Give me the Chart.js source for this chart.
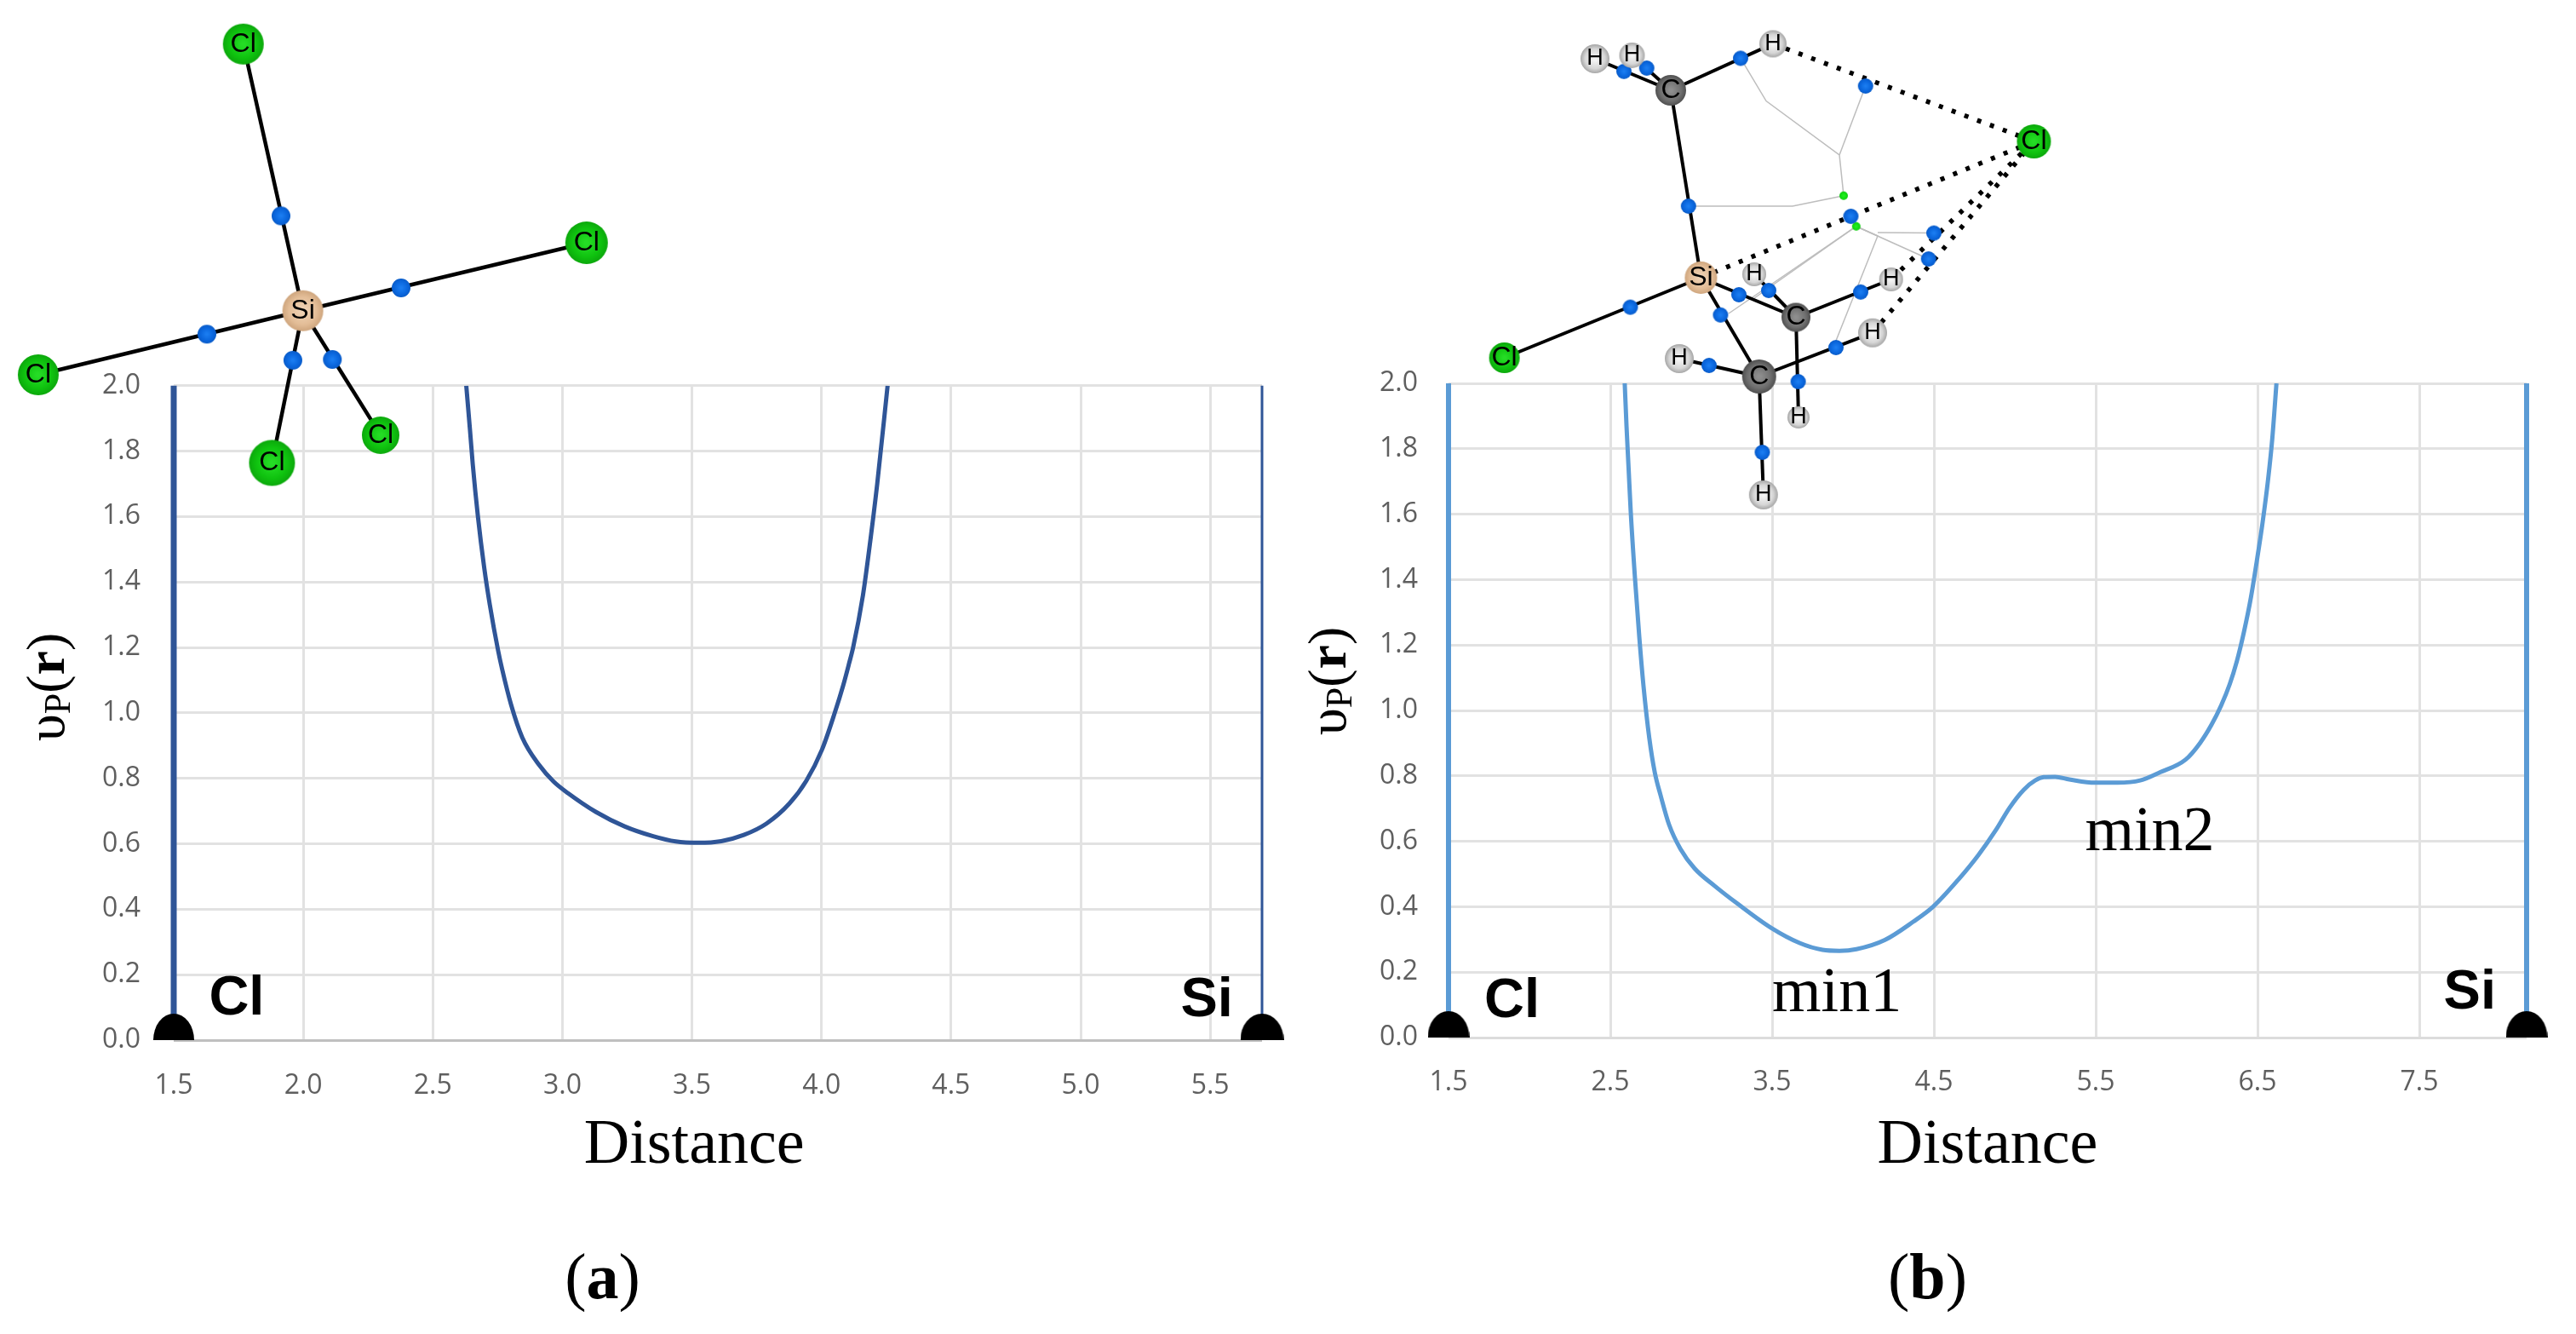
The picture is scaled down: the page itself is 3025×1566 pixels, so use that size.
<!DOCTYPE html>
<html lang="en">
	<head>
		<meta charset="UTF-8" />
		<title>Potential along the Cl-Si path</title>
		<style>
			body {
				background: #fff;
				margin: 0;
				padding: 0;
				width: 3025px;
				height: 1566px;
				overflow: hidden;
			}

			canvas {
				position: absolute;
				top: 0;
				display: block;
			}
		</style>
		<script src="https://cdn.jsdelivr.net/npm/chart.js"></script>
	</head>
	<body>
		<canvas id="chartA" width="1512" height="1566" style="left: 0"></canvas>
		<canvas id="chartB" width="1513" height="1566" style="left: 1512px"></canvas>
		<canvas id="molecules" width="3025" height="1566" style="left: 0"></canvas>
		<script>
			// panel (a)
			const distA = [2.629, 2.643, 2.654, 2.674, 2.698, 2.72, 2.752, 2.767, 2.802, 2.845, 2.911, 2.966, 3.021, 3.13, 3.24, 3.35, 3.437, 3.525, 3.613, 3.7, 3.788, 3.876, 3.941, 4.002, 4.051, 4.084, 4.106, 4.122, 4.16, 4.18, 4.215, 4.255];
			const upA = [2.0, 1.868, 1.76, 1.6, 1.445, 1.33, 1.19, 1.135, 1.025, 0.925, 0.84, 0.79, 0.755, 0.697, 0.653, 0.623, 0.607, 0.603, 0.608, 0.627, 0.662, 0.723, 0.792, 0.888, 1.0, 1.085, 1.15, 1.2, 1.36, 1.475, 1.7, 2.0];
			const xTicksA = [1.5, 2.0, 2.5, 3.0, 3.5, 4.0, 4.5, 5.0, 5.5];
			const xEndsA = [1.5, 5.7];

			// panel (b)
			const distB = [2.589, 2.6, 2.613, 2.626, 2.653, 2.679, 2.705, 2.741, 2.775, 2.811, 2.863, 2.933, 3.021, 3.144, 3.284, 3.495, 3.67, 3.811, 3.916, 4.021, 4.196, 4.372, 4.495, 4.653, 4.775, 4.881, 4.968, 5.056, 5.126, 5.179, 5.249, 5.337, 5.495, 5.635, 5.775, 5.898, 6.056, 6.144, 6.214, 6.275, 6.328, 6.372, 6.416, 6.459, 6.495, 6.53, 6.565, 6.591, 6.617];
			const upB = [2.0, 1.87, 1.74, 1.609, 1.4, 1.225, 1.075, 0.915, 0.81, 0.74, 0.651, 0.577, 0.517, 0.464, 0.41, 0.335, 0.289, 0.268, 0.265, 0.27, 0.298, 0.354, 0.4, 0.484, 0.558, 0.633, 0.703, 0.758, 0.786, 0.796, 0.797, 0.789, 0.779, 0.779, 0.786, 0.811, 0.85, 0.9, 0.955, 1.015, 1.08, 1.15, 1.24, 1.345, 1.455, 1.57, 1.705, 1.83, 2.0];
			const xTicksB = [1.5, 2.5, 3.5, 4.5, 5.5, 6.5, 7.5];
			const xEndsB = [1.5, 8.163];

			const yTicks = [0, 0.2, 0.4, 0.6, 0.8, 1.0, 1.2, 1.4, 1.6, 1.8, 2.0];

			// text inside the plots: text, distance, value
			const atomLabelsA = [["Cl", 1.636, 0.078], ["Si", 5.386, 0.074]];
			const atomLabelsB = [["Cl", 1.721, 0.0625], ["Si", 7.65, 0.089]];
			const minLabelsB = [["min1", 3.5, 0.0815], ["min2", 5.434, 0.574]];

			// molecule (a), in picture pixels
			const molAEl = ["Cl", "Cl", "Cl", "Cl", "Cl", "Si"];
			const molAX = [285.7, 688.8, 44.9, 319.4, 447, 355.6];
			const molAY = [51.7, 285, 440, 543.4, 510.9, 364.7];
			const molAR = [24, 25, 24, 27, 22, 24];
			const molABcpX = [330, 471, 243, 343.9, 390.3];
			const molABcpY = [253.4, 338, 392.3, 422.9, 422];
			const molABonds = [[5, 0], [5, 1], [5, 2], [5, 3], [5, 4]];

			// molecule (b), in picture pixels
			const molBEl = ["H", "H", "H", "C", "Cl", "Si", "H", "H", "C", "H", "H", "C", "Cl", "H", "H"];
			const molBX = [1873, 1916.5, 2082, 1962, 2388.4, 1997.4, 2060, 2220.7, 2109, 2199, 1972, 2065.7, 1766.6, 2112, 2070.8];
			const molBY = [69, 65, 51.4, 106, 166, 326, 322, 328, 372.5, 390.7, 421, 442, 420, 490, 581];
			const molBR = [17, 15, 16, 18, 20, 19, 14, 14, 17, 17, 17, 20, 18, 13, 17];
			const molBBcpX = [1907, 1933.7, 2044, 2190.7, 1982.8, 2173.5, 2271, 2264.7, 2077, 2042, 2185, 2020.4, 1914.5, 2156, 2007, 2111.6, 2069.5];
			const molBBcpY = [83.8, 79.9, 68.4, 101, 242, 253.9, 273.6, 304, 341, 346, 342.8, 369.7, 360.6, 408, 429, 448, 531];
			const molBRcpX = [2165, 2179.8];
			const molBRcpY = [229.7, 265.7];
			const molBBonds = [[3, 0], [3, 1], [3, 2], [3, 5], [5, 12], [5, 8], [5, 11], [8, 6], [8, 7], [8, 13], [11, 9], [11, 10], [11, 14]];
			const molBDotted = [[2, 4], [5, 4], [7, 4], [9, 4]];
			const molBPathsX = [[2044, 2074, 2160, 2165], [2190.7, 2160], [1982.8, 2105, 2165], [2179.8, 2030], [2179.8, 2060], [2179.8, 2205, 2156], [2179.8, 2264.7], [2205, 2271]];
			const molBPathsY = [[68.4, 118.6, 182, 229.7], [101, 182], [242, 242, 229.7], [265.7, 368], [265.7, 350], [265.7, 277, 400], [265.7, 304], [273, 273.6]];

			const zip = (xs, ys) => xs.map((x, i) => ({ x, y: ys[i] }));

			// half disc sitting on the axis, the point is the middle of its flat side
			function domeSprite(w, h) {
				const c = document.createElement("canvas");
				c.width = w;
				c.height = h * 2;
				const g = c.getContext("2d");
				g.fillStyle = "#000";
				g.beginPath();
				g.ellipse(w / 2, h, w / 2, h, 0, Math.PI, 0);
				g.fill();
				return c;
			}

			const atomColors = {
				Cl: ["#25dc25", "#0fc20f", "#0ca80c"],
				Si: ["#efd2b4", "#e3bd97", "#cfa67e"],
				C: ["#8e8e8e", "#6f6f6f", "#505050"],
				H: ["#f4f4f4", "#d6d6d6", "#a6a6a6"],
				bcp: ["#1a7cf0", "#0a66dd", "#0a5cc8"],
				rcp: ["#22ee22", "#11dd11", "#11cc11"],
			};

			function atomSprite(el, r) {
				const c = document.createElement("canvas");
				c.width = c.height = Math.ceil(r * 2) + 2;
				const g = c.getContext("2d");
				const m = c.width / 2;
				const grad = g.createRadialGradient(m, m, r * 0.1, m, m, r);
				grad.addColorStop(0, atomColors[el][0]);
				grad.addColorStop(0.65, atomColors[el][1]);
				grad.addColorStop(1, atomColors[el][2]);
				g.fillStyle = grad;
				g.beginPath();
				g.arc(m, m, r, 0, Math.PI * 2);
				g.fill();
				return c;
			}

			function drawRuns(ctx, runs, px, py, rotation) {
				ctx.save();
				ctx.translate(px, py);
				ctx.rotate(rotation || 0);
				ctx.textAlign = "left";
				ctx.textBaseline = "alphabetic";
				ctx.fillStyle = "#000";
				let at = 0;
				runs.forEach(([text, font, dy]) => {
					ctx.font = font;
					ctx.fillText(text, at, dy || 0);
					at += ctx.measureText(text).width;
				});
				ctx.restore();
			}

			function makePanel(id, cfg) {
				const canvas = document.getElementById(id);
				const dx = cfg.canvasLeft;
				const caps = [domeSprite(cfg.capW[0], cfg.capH), domeSprite(cfg.capW[1], cfg.capH)];
				const serif = '74px "Liberation Serif"';
				const sans = 'bold 65px "Liberation Sans"';

				const textPlugin = {
					id: "panelText",
					afterDraw(chart) {
						const { ctx, scales } = chart;
						const at = (x, y) => [scales.x.getPixelForValue(x), scales.y.getPixelForValue(y)];
						cfg.atomLabels.forEach(([t, x, y]) => {
							drawRuns(ctx, [[t, sans]], ...at(x, y));
						});
						cfg.minLabels.forEach(([t, x, y]) => {
							drawRuns(ctx, [[t, serif]], ...at(x, y));
						});
						// caption under the plot
						drawRuns(
							ctx,
							[
								["(", '76px "Liberation Serif"'],
								[cfg.caption[0], 'bold 76px "Liberation Serif"'],
								[")", '76px "Liberation Serif"'],
							],
							...at(cfg.caption[1], cfg.caption[2])
						);
						// y axis title has three fonts, the scale title can only do one
						drawRuns(
							ctx,
							[
								["υ", '64px "Liberation Serif"'],
								["P", '44px "Liberation Serif"', 7],
								["(", '64px "Liberation Serif"'],
								["r", 'bold 64px "Liberation Serif"'],
								[")", '64px "Liberation Serif"'],
							],
							cfg.yTitle[0] - dx,
							cfg.yTitle[1],
							-Math.PI / 2
						);
					},
				};

				return new Chart(canvas, {
					type: "scatter",
					data: {
						datasets: [
							{
								data: cfg.xEnds.map((x) => ({ x, y: 0 })),
								pointStyle: caps,
								pointRadius: 10,
								clip: false,
							},
							{
								data: zip(cfg.dist, cfg.up),
								showLine: true,
								cubicInterpolationMode: "monotone",
								borderColor: cfg.color,
								borderWidth: 5,
								pointRadius: 0,
							},
							{
								data: [{ x: cfg.xEnds[0], y: 0 }, { x: cfg.xEnds[0], y: 2 }],
								showLine: true,
								borderColor: cfg.color,
								borderWidth: cfg.sideWidth[0],
								pointRadius: 0,
								clip: false,
							},
							{
								data: [{ x: cfg.xEnds[1], y: 0 }, { x: cfg.xEnds[1], y: 2 }],
								showLine: true,
								borderColor: cfg.color,
								borderWidth: cfg.sideWidth[1],
								pointRadius: 0,
								clip: false,
							},
						],
					},
					options: {
						responsive: false,
						animation: false,
						devicePixelRatio: 1,
						layout: {
							padding: {
								top: cfg.plot.top,
								right: canvas.width - (cfg.plot.right - dx),
								left: 0,
								bottom: 0,
							},
						},
						plugins: {
							legend: { display: false },
							tooltip: { enabled: false },
						},
						scales: {
							x: {
								type: "linear",
								min: cfg.xEnds[0],
								max: cfg.xEnds[1],
								afterFit: (s) => {
									s.height = canvas.height - cfg.plot.bottom;
								},
								afterBuildTicks: (s) => {
									s.ticks = cfg.xTicks.map((value) => ({ value }));
								},
								grid: {
									color: "#e2e2e2",
									lineWidth: 3,
									drawTicks: false,
								},
								border: { display: false },
								ticks: {
									color: "#5f5f5f",
									font: { family: "Open Sans", size: 32 },
									padding: cfg.xPad,
									maxRotation: 0,
									callback: (v) => v.toFixed(1),
								},
								title: {
									display: true,
									text: cfg.xTitle,
									color: "#000",
									font: { family: "Liberation Serif", size: 74 },
									padding: { top: 0, bottom: 176 },
								},
							},
							y: {
								type: "linear",
								min: 0,
								max: 2,
								afterFit: (s) => {
									s.width = cfg.plot.left - dx;
								},
								afterBuildTicks: (s) => {
									s.ticks = yTicks.map((value) => ({ value }));
								},
								grid: {
									color: (c) => (c.tick.value === 0 ? cfg.baseColor : "#e2e2e2"),
									lineWidth: 3,
									drawTicks: false,
								},
								border: { display: false },
								ticks: {
									color: "#5f5f5f",
									font: { family: "Open Sans", size: 32 },
									padding: cfg.yPad,
									callback: (v) => v.toFixed(1),
								},
							},
						},
					},
					plugins: [textPlugin],
				});
			}

			makePanel("chartA", {
				canvasLeft: 0,
				plot: { left: 204, right: 1482, top: 452.7, bottom: 1221 },
				dist: distA,
				up: upA,
				xTicks: xTicksA,
				xEnds: xEndsA,
				color: "#2f5597",
				baseColor: "#bfbfbf",
				sideWidth: [7, 3],
				capW: [48, 51],
				capH: 31,
				xPad: 35,
				yPad: 39,
				// centre of the word sits left of the plot centre here
				xTitle: "Distance\u00A0\u00A0\u00A0",
				atomLabels: atomLabelsA,
				minLabels: [],
				caption: ["a", 3.009, -0.789],
				yTitle: [75, 870],
			});

			makePanel("chartB", {
				canvasLeft: 1512,
				plot: { left: 1701, right: 2967, top: 450, bottom: 1218 },
				dist: distB,
				up: upB,
				xTicks: xTicksB,
				xEnds: xEndsB,
				color: "#5b9bd5",
				baseColor: "#dcdcdc",
				sideWidth: [6, 6],
				capW: [49, 49],
				capH: 31,
				xPad: 34,
				yPad: 36,
				xTitle: "Distance",
				atomLabels: atomLabelsB,
				minLabels: minLabelsB,
				caption: ["b", 4.216, -0.798],
				yTitle: [1580, 863],
			});

			// both molecule insets on one transparent chart that covers the page
			const molDatasets = [];
			const molLabels = [];

			function addAtoms(els, xs, ys, rs) {
				const pts = zip(xs, ys);
				molDatasets.push({
					data: pts,
					pointStyle: els.map((el, i) => atomSprite(el, rs[i])),
					pointRadius: 10,
				});
				els.forEach((el, i) => molLabels.push([el, xs[i], ys[i], el === "H" ? 27 : 32]));
			}

			function addBcps(xs, ys, r, kind) {
				molDatasets.push({
					data: zip(xs, ys),
					pointStyle: xs.map(() => atomSprite(kind, r)),
					pointRadius: 10,
				});
			}

			function addBonds(bonds, xs, ys, width, dash) {
				bonds.forEach(([a, b]) => {
					molDatasets.push({
						data: [{ x: xs[a], y: ys[a] }, { x: xs[b], y: ys[b] }],
						showLine: true,
						borderColor: "#000",
						borderWidth: width,
						borderDash: dash || [],
						pointRadius: 0,
					});
				});
			}

			// first dataset ends up on top
			addAtoms(molAEl, molAX, molAY, molAR);
			addAtoms(molBEl, molBX, molBY, molBR);
			addBcps(molABcpX, molABcpY, 11, "bcp");
			addBcps(molBBcpX, molBBcpY, 9, "bcp");
			addBcps(molBRcpX, molBRcpY, 5, "rcp");
			addBonds(molABonds, molAX, molAY, 4.5);
			addBonds(molBBonds, molBX, molBY, 4);
			addBonds(molBDotted, molBX, molBY, 5.5, [5, 11]);
			molBPathsX.forEach((xs, i) => {
				molDatasets.push({
					data: zip(xs, molBPathsY[i]),
					showLine: true,
					borderColor: "#bdbdbd",
					borderWidth: 1.5,
					pointRadius: 0,
				});
			});

			new Chart(document.getElementById("molecules"), {
				type: "scatter",
				data: { datasets: molDatasets },
				options: {
					responsive: false,
					animation: false,
					devicePixelRatio: 1,
					// the big point radius would otherwise shrink the chart area
					layout: { padding: 0, autoPadding: false },
					plugins: {
						legend: { display: false },
						tooltip: { enabled: false },
					},
					scales: {
						x: { type: "linear", display: false, min: 0, max: 3025 },
						y: { type: "linear", display: false, min: 0, max: 1566, reverse: true },
					},
				},
				plugins: [
					{
						id: "atomNames",
						afterDraw(chart) {
							const { ctx, scales } = chart;
							ctx.save();
							ctx.fillStyle = "#000";
							ctx.textAlign = "center";
							ctx.textBaseline = "middle";
							molLabels.forEach(([t, x, y, size]) => {
								ctx.font = size + 'px "Liberation Sans"';
								ctx.fillText(t, scales.x.getPixelForValue(x), scales.y.getPixelForValue(y));
							});
							ctx.restore();
						},
					},
				],
			});
		</script>
	</body>
</html>
